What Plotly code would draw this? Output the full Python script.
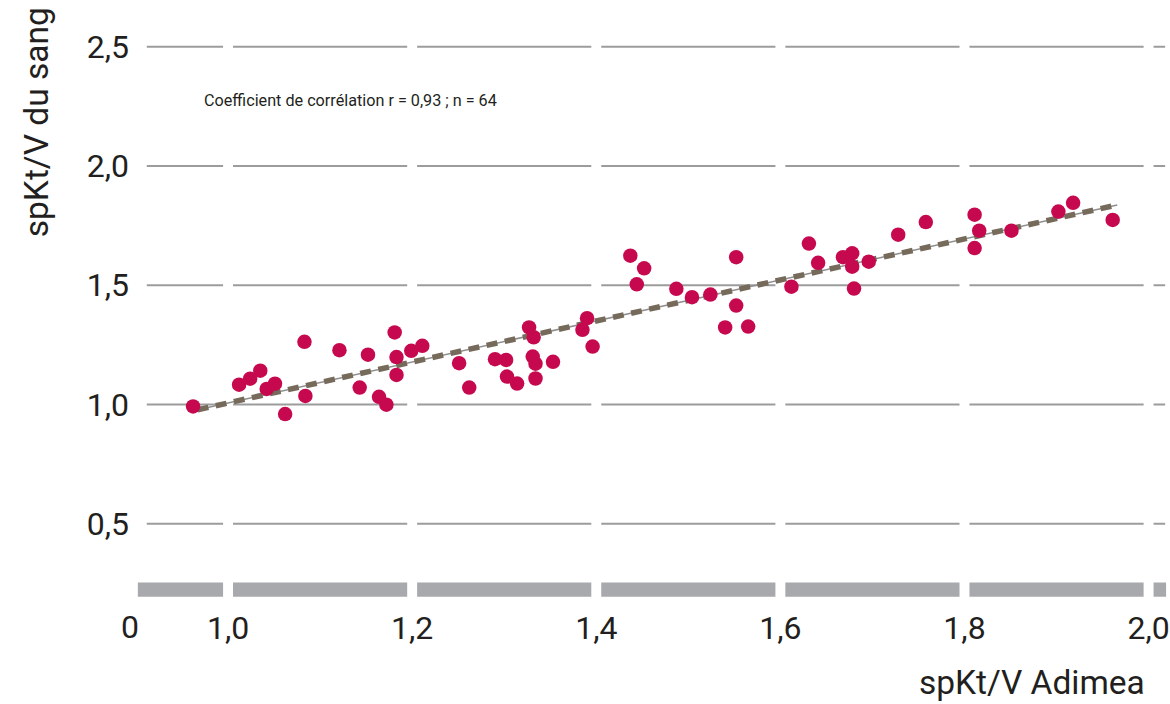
import plotly.graph_objects as go

# ---- data ----
adimea = [0.962, 1.012, 1.024, 1.035, 1.042, 1.051, 1.062, 1.083, 1.084, 1.121,
          1.143, 1.152, 1.164, 1.172, 1.181, 1.183, 1.183, 1.199, 1.211, 1.251,
          1.262, 1.290, 1.302, 1.303, 1.314, 1.327, 1.332, 1.331, 1.334, 1.334,
          1.353, 1.390, 1.385, 1.396, 1.437, 1.452, 1.444, 1.487, 1.504, 1.524,
          1.540, 1.552, 1.552, 1.565, 1.612, 1.631, 1.641, 1.668, 1.678, 1.678,
          1.680, 1.696, 1.728, 1.758, 1.811, 1.816, 1.811, 1.851, 1.902, 1.918,
          1.961]
sang = [0.992, 1.083, 1.108, 1.142, 1.065, 1.087, 0.960, 1.263, 1.036, 1.228,
        1.071, 1.209, 1.032, 0.999, 1.302, 1.199, 1.124, 1.225, 1.246, 1.173,
        1.071, 1.190, 1.187, 1.117, 1.088, 1.323, 1.282, 1.201, 1.171, 1.109,
        1.179, 1.362, 1.313, 1.243, 1.624, 1.571, 1.504, 1.485, 1.450, 1.461,
        1.323, 1.618, 1.415, 1.327, 1.494, 1.675, 1.594, 1.618, 1.634, 1.578,
        1.486, 1.599, 1.712, 1.765, 1.796, 1.729, 1.656, 1.729, 1.809, 1.846,
        1.774]

trend_x = [0.967, 1.966]
trend_y = [0.978, 1.837]

x_tick_vals = [1.0, 1.2, 1.4, 1.6, 1.8, 2.0]
x_tick_text = ["1,0", "1,2", "1,4", "1,6", "1,8", "2,0"]
x_break_val = 0.893
x_break_text = "0"
y_tick_vals = [0.5, 1.0, 1.5, 2.0, 2.5]
y_tick_text = ["0,5", "1,0", "1,5", "2,0", "2,5"]

note_text = "Coefficient de corrélation r = 0,93 ; n = 64"
x_title = "spKt/V Adimea"
y_title = "spKt/V du sang"

# ---- styling ----
FONT = "Roboto, 'Open Sans', sans-serif"
TXT = "#231f20"
GRID = "#9c9c9c"
BAR = "#a8a9ad"
DOT = "#c6094f"
TREND = "#766a5b"
TICK_SIZE = 32
TITLE_SIZE = 33.5

X_RANGE = [0.90, 2.02]
Y_RANGE = [0.18, 2.60]
GRID_X0 = 0.9117
GRID_X1 = 2.018
BAR_Y = [0.194, 0.253]
GAP = 0.0054

fig = go.Figure()

fig.add_trace(go.Scatter(
    x=trend_x, y=trend_y, mode="lines",
    line=dict(color="#8e8e8e", width=1.5),
    hoverinfo="skip", showlegend=False))
fig.add_trace(go.Scatter(
    x=trend_x, y=trend_y, mode="lines",
    line=dict(color=TREND, width=5.5, dash="11px,7.5px"),
    hoverinfo="skip", showlegend=False))
fig.add_trace(go.Scatter(
    x=adimea, y=sang, mode="markers",
    marker=dict(color=DOT, size=14.5, line=dict(width=0)),
    showlegend=False))

shapes = []
# horizontal grid lines
for v in y_tick_vals:
    shapes.append(dict(type="line", xref="x", yref="y",
                       x0=GRID_X0, x1=GRID_X1, y0=v, y1=v,
                       line=dict(color=GRID, width=2), layer="below"))
# grey bar along the bottom
shapes.append(dict(type="rect", xref="x", yref="y",
                   x0=X_RANGE[0] + 0.002, x1=GRID_X1 + 0.001, y0=BAR_Y[0], y1=BAR_Y[1],
                   fillcolor=BAR, line=dict(width=0), layer="below"))
# white gaps at each x tick (same subplot layer, drawn after grid and bar)
for v in x_tick_vals:
    shapes.append(dict(type="rect", xref="x", yref="y",
                       x0=v - GAP, x1=v + GAP, y0=Y_RANGE[0], y1=Y_RANGE[1],
                       fillcolor="white", line=dict(width=0), layer="below"))

break_paper_x = (x_break_val - X_RANGE[0]) / (X_RANGE[1] - X_RANGE[0])

annotations = [
    dict(text=note_text, xref="x", yref="y", x=0.9718, y=2.276,
         xanchor="left", yanchor="middle", showarrow=False,
         font=dict(family=FONT, size=16.2, color=TXT)),
    dict(text=y_title, xref="paper", yref="paper", x=-0.097, y=0.828,
         textangle=-90, xanchor="center", yanchor="middle", showarrow=False,
         font=dict(family=FONT, size=TITLE_SIZE, color=TXT)),
    dict(text=x_title, xref="paper", yref="paper", x=0.9805, y=-0.143,
         xanchor="right", yanchor="middle", showarrow=False,
         font=dict(family=FONT, size=TITLE_SIZE, color=TXT)),
    dict(text=x_break_text, xref="paper", yref="paper", x=break_paper_x, y=-0.0475,
         xanchor="center", yanchor="middle", showarrow=False,
         font=dict(family=FONT, size=TICK_SIZE, color=TXT)),
]

fig.update_layout(
    width=1170, height=704,
    margin=dict(l=136, r=3, t=22.8, b=103.5, autoexpand=False),
    paper_bgcolor="white", plot_bgcolor="white",
    font=dict(family=FONT, color=TXT),
    shapes=shapes, annotations=annotations,
    xaxis=dict(range=X_RANGE, tickvals=x_tick_vals, ticktext=x_tick_text,
               showgrid=False, zeroline=False, showline=False, ticks="",
               tickfont=dict(family=FONT, size=TICK_SIZE, color=TXT),
               ticklabelstandoff=6),
    yaxis=dict(range=Y_RANGE, tickvals=y_tick_vals, ticktext=y_tick_text,
               showgrid=False, zeroline=False, showline=False, ticks="",
               tickfont=dict(family=FONT, size=TICK_SIZE, color=TXT),
               ticklabelstandoff=6),
    hovermode=False,
)

fig.write_html("out.html", config={"displayModeBar": False},
               post_script="document.body.style.margin='0';document.body.style.overflow='hidden';")
